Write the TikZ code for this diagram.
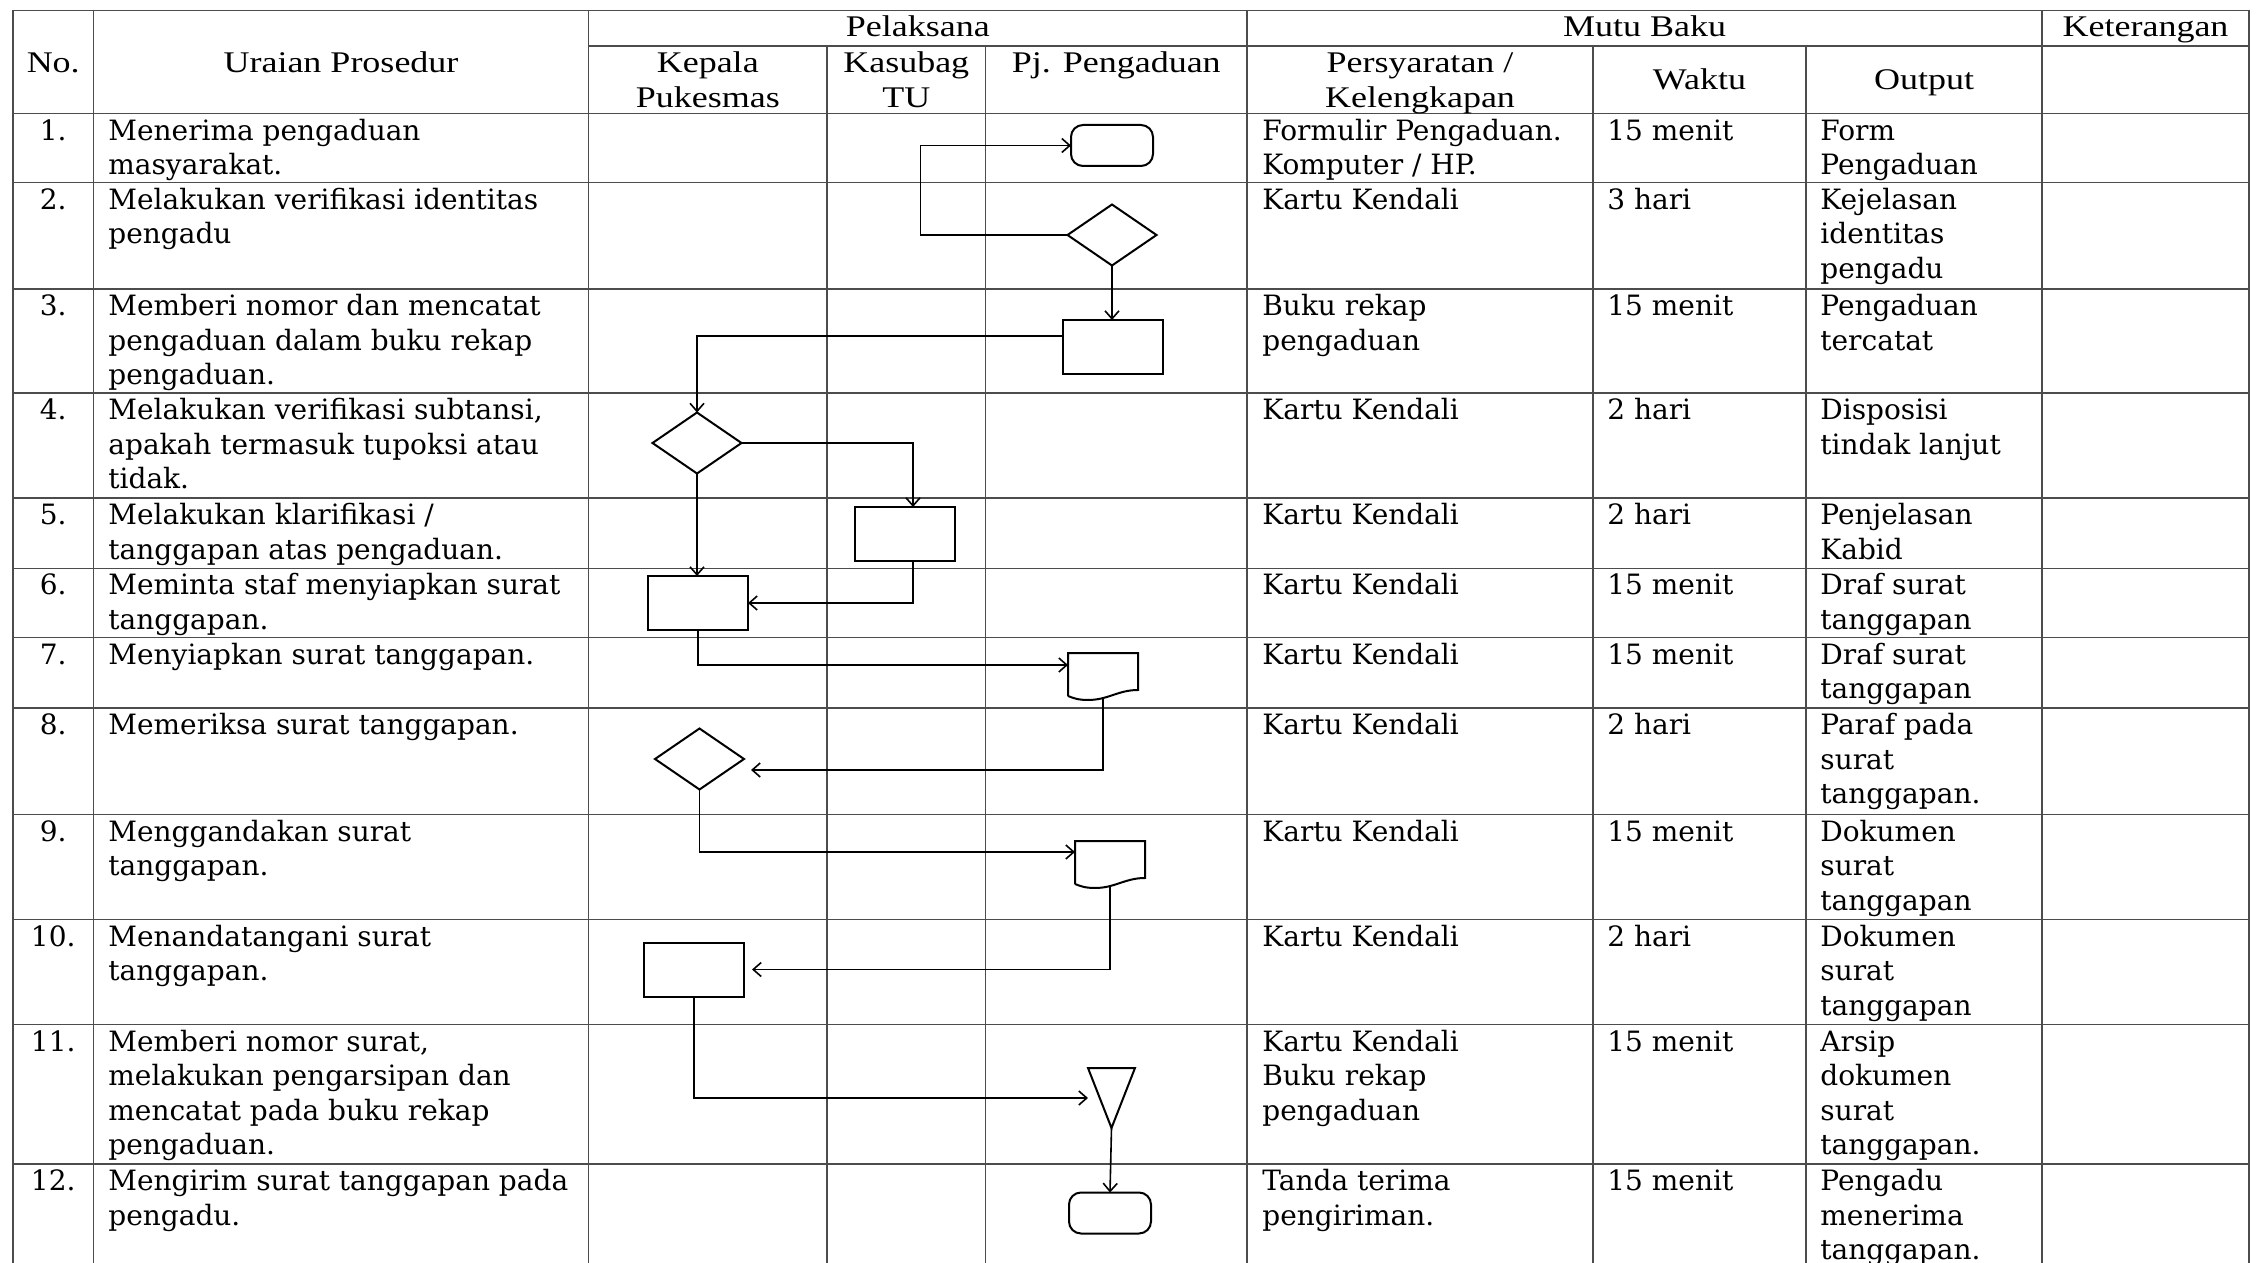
\documentclass[tikz,border=0pt]{standalone}
\usepackage{fontspec}
\setmainfont{DejaVu Serif}
\newfontfamily\bodyfamily{DejaVu Serif}
\newfontfamily\headfamily[FakeStretch=1.2]{Liberation Serif}
\usetikzlibrary{shapes.geometric,arrows.meta,calc}

\tikzset{
 grid/.style={draw=black!70, line width=0.75pt},
 shapeline/.style={draw=black, line width=1pt},
 shp/.style={draw=black, line width=1pt, inner sep=0pt, outer sep=0pt},
 procbox/.style={shp, rectangle, minimum width=50pt, minimum height=27pt},
 decbox/.style={shp, diamond, minimum width=44.5pt, minimum height=30.5pt},
 termbox/.style={shp, rectangle, rounded corners=6pt, minimum width=41pt, minimum height=20.5pt},
 docbox/.style={rectangle, inner sep=0pt, outer sep=0pt, minimum width=35pt, minimum height=23pt},
 mergebox/.style={rectangle, inner sep=0pt, outer sep=0pt, minimum width=23.5pt, minimum height=30pt},
 flow/.style={line width=0.8pt, -{Straight Barb[length=4pt,width=7pt]}},
 body/.style={anchor=north west, inner sep=0pt, align=left, font=\bodyfamily\fontsize{14pt}{17.3pt}\selectfont},
 bodyc/.style={body, anchor=north, align=center},
 head/.style={anchor=north, inner sep=0pt, align=center, font=\headfamily\fontsize{15pt}{17.3pt}\selectfont},
}

\newcommand{\docoutline}[1]{%
 \draw[shapeline] ($(#1.north west)+(0,43)$) -- (#1.north west) -- (#1.north east) -- ($(#1.north east)+(0,37)$)
 .. controls ($(#1.north west)+(50,37)$) and ($(#1.north west)+(40,47)$) .. ($(#1.north west)+(20,47)$)
 .. controls ($(#1.north west)+(10,47)$) and ($(#1.north west)+(5,45)$) .. ($(#1.north west)+(0,43)$);}

\begin{document}
\begin{tikzpicture}[x=0.5pt,y=-0.5pt]
\useasboundingbox (0,0) rectangle (2256,1263);
\clip (0,0) rectangle (2256,1263);
\fill[white] (0,0) rectangle (2256,1263);

% grid
\draw[grid] (13,10.5) -- (2249,10.5);
\draw[grid] (588.5,46) -- (2249,46);
\foreach \y in {113.7,182.7,289,392.8,497.8,568.3,637.4,707.9,814.4,919.4,1024.4,1164}
  \draw[grid] (13,\y) -- (2249,\y);
\foreach \x in {13,93.5,588.5,1247,2042,2249}
  \draw[grid] (\x,10.5) -- (\x,1275);
\foreach \x in {827,985.5,1593,1806}
  \draw[grid] (\x,46) -- (\x,1275);

% header
\node[head] (hno) at (53.25,48) {\strut No.};
\node[head] (hur) at (341,48) {\strut Uraian Prosedur};
\node[head] (hpl) at (917.75,12) {\strut Pelaksana};
\node[head] (hmb) at (1644.5,12) {\strut Mutu Baku};
\node[head] (hket) at (2145.5,12) {\strut Keterangan};
\node[head] (hkp) at (707.75,48) {\strut Kepala\\Pukesmas};
\node[head] (hks) at (906.25,48) {\strut Kasubag\\TU};
\node[head] (hpj) at (1116.25,48) {\strut Pj. Pengaduan};
\node[head] (hps) at (1420,48) {\strut Persyaratan /\\Kelengkapan};
\node[head] (hwk) at (1699.5,65) {\strut Waktu};
\node[head] (hout) at (1924,65) {\strut Output};

% numbers
\node[bodyc] (n1) at (53.25,115.7) {\strut 1.};
\node[bodyc] (n2) at (53.25,184.7) {\strut 2.};
\node[bodyc] (n3) at (53.25,291) {\strut 3.};
\node[bodyc] (n4) at (53.25,394.8) {\strut 4.};
\node[bodyc] (n5) at (53.25,499.8) {\strut 5.};
\node[bodyc] (n6) at (53.25,570.3) {\strut 6.};
\node[bodyc] (n7) at (53.25,639.4) {\strut 7.};
\node[bodyc] (n8) at (53.25,709.9) {\strut 8.};
\node[bodyc] (n9) at (53.25,816.4) {\strut 9.};
\node[bodyc] (n10) at (53.25,921.4) {\strut 10.};
\node[bodyc] (n11) at (53.25,1026.4) {\strut 11.};
\node[bodyc] (n12) at (53.25,1166) {\strut 12.};

% uraian
\node[body] (u1) at (108,115.7) {\strut Menerima pengaduan\\masyarakat.};
\node[body] (u2) at (108,184.7) {\strut Melakukan verifikasi identitas\\pengadu};
\node[body] (u3) at (108,291) {\strut Memberi nomor dan mencatat\\pengaduan dalam buku rekap\\pengaduan.};
\node[body] (u4) at (108,394.8) {\strut Melakukan verifikasi subtansi,\\apakah termasuk tupoksi atau\\tidak.};
\node[body] (u5) at (108,499.8) {\strut Melakukan klarifikasi /\\tanggapan atas pengaduan.};
\node[body] (u6) at (108,570.3) {\strut Meminta staf menyiapkan surat\\tanggapan.};
\node[body] (u7) at (108,639.4) {\strut Menyiapkan surat tanggapan.};
\node[body] (u8) at (108,709.9) {\strut Memeriksa surat tanggapan.};
\node[body] (u9) at (108,816.4) {\strut Menggandakan surat\\tanggapan.};
\node[body] (u10) at (108,921.4) {\strut Menandatangani surat\\tanggapan.};
\node[body] (u11) at (108,1026.4) {\strut Memberi nomor surat,\\melakukan pengarsipan dan\\mencatat pada buku rekap\\pengaduan.};
\node[body] (u12) at (108,1166) {\strut Mengirim surat tanggapan pada\\pengadu.};

% persyaratan
\node[body] (p1) at (1262,115.7) {\strut Formulir Pengaduan.\\Komputer / HP.};
\node[body] (p2) at (1262,184.7) {\strut Kartu Kendali};
\node[body] (p3) at (1262,291) {\strut Buku rekap\\pengaduan};
\node[body] (p4) at (1262,394.8) {\strut Kartu Kendali};
\node[body] (p5) at (1262,499.8) {\strut Kartu Kendali};
\node[body] (p6) at (1262,570.3) {\strut Kartu Kendali};
\node[body] (p7) at (1262,639.4) {\strut Kartu Kendali};
\node[body] (p8) at (1262,709.9) {\strut Kartu Kendali};
\node[body] (p9) at (1262,816.4) {\strut Kartu Kendali};
\node[body] (p10) at (1262,921.4) {\strut Kartu Kendali};
\node[body] (p11) at (1262,1026.4) {\strut Kartu Kendali\\Buku rekap\\pengaduan};
\node[body] (p12) at (1262,1166) {\strut Tanda terima\\pengiriman.};

% waktu
\node[body] (w1) at (1607,115.7) {\strut 15 menit};
\node[body] (w2) at (1607,184.7) {\strut 3 hari};
\node[body] (w3) at (1607,291) {\strut 15 menit};
\node[body] (w4) at (1607,394.8) {\strut 2 hari};
\node[body] (w5) at (1607,499.8) {\strut 2 hari};
\node[body] (w6) at (1607,570.3) {\strut 15 menit};
\node[body] (w7) at (1607,639.4) {\strut 15 menit};
\node[body] (w8) at (1607,709.9) {\strut 2 hari};
\node[body] (w9) at (1607,816.4) {\strut 15 menit};
\node[body] (w10) at (1607,921.4) {\strut 2 hari};
\node[body] (w11) at (1607,1026.4) {\strut 15 menit};
\node[body] (w12) at (1607,1166) {\strut 15 menit};

% output
\node[body] (o1) at (1820,115.7) {\strut Form\\Pengaduan};
\node[body] (o2) at (1820,184.7) {\strut Kejelasan\\identitas\\pengadu};
\node[body] (o3) at (1820,291) {\strut Pengaduan\\tercatat};
\node[body] (o4) at (1820,394.8) {\strut Disposisi\\tindak lanjut};
\node[body] (o5) at (1820,499.8) {\strut Penjelasan\\Kabid};
\node[body] (o6) at (1820,570.3) {\strut Draf surat\\tanggapan};
\node[body] (o7) at (1820,639.4) {\strut Draf surat\\tanggapan};
\node[body] (o8) at (1820,709.9) {\strut Paraf pada\\surat\\tanggapan.};
\node[body] (o9) at (1820,816.4) {\strut Dokumen\\surat\\tanggapan};
\node[body] (o10) at (1820,921.4) {\strut Dokumen\\surat\\tanggapan};
\node[body] (o11) at (1820,1026.4) {\strut Arsip\\dokumen\\surat\\tanggapan.};
\node[body] (o12) at (1820,1166) {\strut Pengadu\\menerima\\tanggapan.};

% flowchart shapes
\node[termbox] (t1) at (1112,145.5) {};
\node[decbox] (d2) at (1112,235) {};
\node[procbox] (r3) at (1112.5,347) {};
\node[decbox] (d4) at (697,443) {};
\node[procbox] (r5) at (905,534) {};
\node[procbox] (r6) at (698,603) {};
\node[docbox] (d7) at (1103,676) {};
\docoutline{d7}
\node[decbox] (d8) at (699.5,759) {};
\node[docbox] (d9) at (1110,864) {};
\docoutline{d9}
\node[procbox] (r10) at (694,969.5) {};
\node[mergebox] (tr) at (1111.5,1098) {};
\draw[shapeline] (tr.north west) -- (tr.north east) -- (tr.south) -- cycle;
\node[termbox] (t12) at (1110,1213) {};

% connectors
\coordinate (c1) at (920.5,235);
\draw[flow] (d2.west) -- (c1) |- (t1.west);
\draw[flow] (d2.south) -- (d2.south |- r3.north);
\draw[flow] ([yshift=5.5pt]r3.west) -| (d4.north);
\draw[flow] (d4.east) -| ([xshift=4pt]r5.north);
\draw[flow] (d4.south) -- (d4.south |- r6.north);
\draw[flow] ([xshift=4pt]r5.south) |- (r6.east);
\draw[flow] (r6.south) |- ([yshift=5.5pt]d7.west);
\draw[flow] (d7.south) |- ([xshift=3.5pt,yshift=-5.5pt]d8.east);
\draw[flow] (d8.south) |- ([yshift=6pt]d9.west);
\draw[flow] (d9.south) |- ([xshift=4pt]r10.east);
\draw[flow] (r10.south) |- (tr.west);
\draw[flow] (tr.south) -- (t12.north);
\end{tikzpicture}
\end{document}
